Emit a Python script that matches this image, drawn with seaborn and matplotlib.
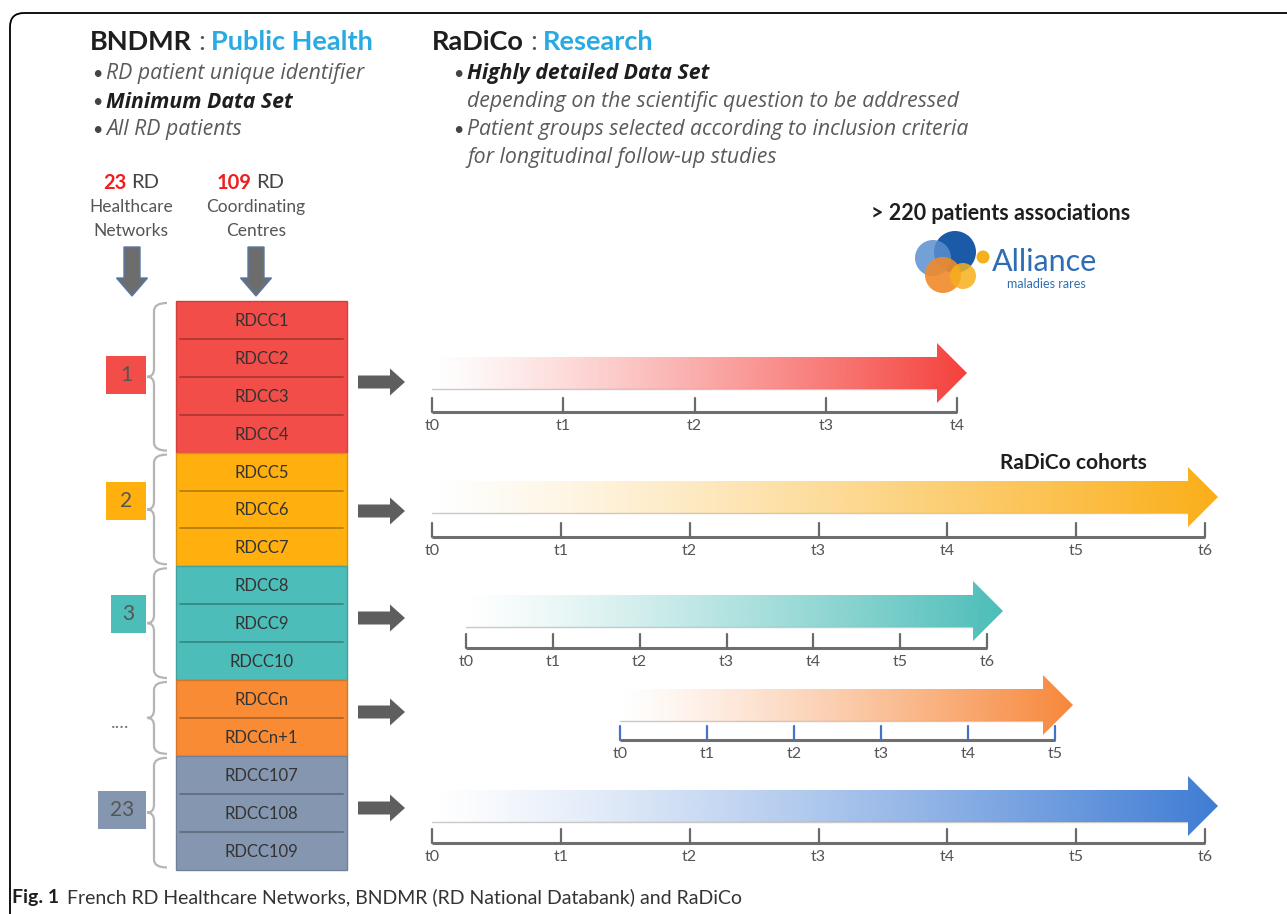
import numpy as np
import matplotlib
matplotlib.use("Agg")
import matplotlib.pyplot as plt
import matplotlib.colors as mcolors
import seaborn as sns
from matplotlib.patches import Rectangle, Polygon, FancyArrow, FancyBboxPatch, Circle, PathPatch
from matplotlib.path import Path

sns.set_theme(style="white")
plt.rcParams['font.family'] = ['Lato', 'DejaVu Sans']

# ---- data ----
network_labels = ["1", "2", "3", "....", "23"]
group_colors = ["#F24D48", "#FFB00F", "#4DBDB9", "#F98B34", "#8597B0"]
rdcc_labels = [
    ["RDCC1", "RDCC2", "RDCC3", "RDCC4"],
    ["RDCC5", "RDCC6", "RDCC7"],
    ["RDCC8", "RDCC9", "RDCC10"],
    ["RDCCn", "RDCCn+1"],
    ["RDCC107", "RDCC108", "RDCC109"],
]
timeline_ticks = [
    ["t0", "t1", "t2", "t3", "t4"],
    ["t0", "t1", "t2", "t3", "t4", "t5", "t6"],
    ["t0", "t1", "t2", "t3", "t4", "t5", "t6"],
    ["t0", "t1", "t2", "t3", "t4", "t5"],
    ["t0", "t1", "t2", "t3", "t4", "t5", "t6"],
]
arrow_colors = ["#F5403B", "#FBAE17", "#4CBDB8", "#F7873A", "#3F7CD4"]
tick_colors = ["#6a6a6a", "#6a6a6a", "#6a6a6a", "#4472C4", "#6a6a6a"]

# (text, bold, has bullet)
left_bullets = [("RD patient unique identifier", False, True),
                ("Minimum Data Set", True, True),
                ("All RD patients", False, True)]
right_bullets = [("Highly detailed Data Set", True, True),
                 ("depending on the scientific question to be addressed", False, False),
                 ("Patient groups selected according to inclusion criteria", False, True),
                 ("for longitudinal follow-up studies", False, False)]

# ---- layout (pixels) ----
W, H = 1287, 914
col_x0, col_x1 = 176, 347
row_top, row_h = 301, 37.9
box_cy = [375, 501, 614, 722, 810]
box_w = [40, 40, 35, 0, 48]
arrow_cy = [382, 511, 618, 712, 808]
tl_start = [432, 432, 466, 620, 432]
tl_end = [957, 1205, 987, 1055, 1205]
tl_tip = [967, 1218, 1003, 1073, 1218]
tl_arrow_y = [373, 497, 611, 705, 806]
tl_axis_y = [412, 537, 648, 740, 843]

fig = plt.figure(figsize=(W / 100, H / 100), dpi=100)
ax = fig.add_axes([0, 0, 1, 1])
ax.set_xlim(0, W)
ax.set_ylim(H, 0)
ax.axis("off")
renderer = fig.canvas.get_renderer()


def text_run(x, y, parts, gap=0, **kw):
    for s, props in parts:
        t = ax.text(x, y, s, va="center", ha="left", **kw, **props)
        bb = t.get_window_extent(renderer=renderer)
        x = ax.transData.inverted().transform((bb.x1, bb.y0))[0] + gap


def darker(c, f=0.72):
    r, g, b = mcolors.to_rgb(c)
    return (r * f, g * f, b * f)


def gradient_arrow(x0, x1, yc, color, body_h=32, head_h=60, head_len=30):
    xb = x1 - head_len
    pts = [(x0, yc - body_h / 2), (xb, yc - body_h / 2), (xb, yc - head_h / 2), (x1, yc),
           (xb, yc + head_h / 2), (xb, yc + body_h / 2), (x0, yc + body_h / 2)]
    poly = Polygon(pts, closed=True, facecolor="none", edgecolor="none")
    ax.add_patch(poly)
    grad = np.zeros((2, 256, 4))
    grad[..., :3] = mcolors.to_rgb(color)
    grad[..., 3] = np.linspace(0, 1, 256) ** 1.2
    im = ax.imshow(grad, extent=(x0, x1, yc + head_h / 2, yc - head_h / 2),
                   aspect="auto", interpolation="bilinear", zorder=2)
    im.set_clip_path(poly)
    ax.plot([x0, xb], [yc + body_h / 2, yc + body_h / 2], color="#c9c9c9", lw=1.0, zorder=1)


def brace(top, bottom, xr=167, xm=154, xt=147, r=8):
    mid = (top + bottom) / 2
    verts = [(xr, top), (xm, top), (xm, top + r), (xm, mid - r), (xm, mid), (xt, mid),
             (xt, mid), (xm, mid), (xm, mid + r), (xm, bottom - r), (xm, bottom), (xr, bottom)]
    codes = [Path.MOVETO, Path.CURVE3, Path.CURVE3, Path.LINETO, Path.CURVE3, Path.CURVE3,
             Path.MOVETO, Path.CURVE3, Path.CURVE3, Path.LINETO, Path.CURVE3, Path.CURVE3]
    ax.add_patch(PathPatch(Path(verts, codes), fill=False, ec="#b5b5b5", lw=1.6))


def bullet_list(x, items):
    for i, (s, bold, dot) in enumerate(items):
        y = 74 + 28 * i
        if dot:
            ax.text(x, y, "•", va="center", ha="left", fontsize=13, color="#444444")
        ax.text(x + 14, y, s, va="center", ha="left", fontsize=15.3, style="italic",
                family=["Open Sans", "DejaVu Sans"], fontweight="bold" if bold else "normal",
                color="#1e1e1e" if bold else "#5a5a5a")


# frame
ax.add_patch(FancyBboxPatch((10, 13), 1400, 1000, boxstyle="round,pad=0,rounding_size=14",
                            fill=False, ec="black", lw=1.3, clip_on=False))

# headers
text_run(90, 42, [("BNDMR", dict(color="#1e1e1e", fontweight="bold")),
                  (":", dict(color="#555555")),
                  ("Public Health", dict(color="#2AAAE2", fontweight="bold"))], gap=6, fontsize=19.5)
text_run(432, 42, [("RaDiCo", dict(color="#1e1e1e", fontweight="bold")),
                   (":", dict(color="#555555")),
                   ("Research", dict(color="#2AAAE2", fontweight="bold"))], gap=6, fontsize=19.5)
bullet_list(92, left_bullets)
bullet_list(453, right_bullets)

# column headers
ax.text(127, 183, "23", color="#F01E1E", fontweight="bold", fontsize=14.5, ha="right", va="center")
ax.text(131, 183, "RD", color="#444444", fontsize=14.5, ha="left", va="center")
ax.text(131, 207, "Healthcare", color="#555555", fontsize=12.5, ha="center", va="center")
ax.text(131, 231, "Networks", color="#555555", fontsize=12.5, ha="center", va="center")
ax.text(252, 183, "109", color="#F01E1E", fontweight="bold", fontsize=14.5, ha="right", va="center")
ax.text(256, 183, "RD", color="#444444", fontsize=14.5, ha="left", va="center")
ax.text(256, 207, "Coordinating", color="#555555", fontsize=12.5, ha="center", va="center")
ax.text(256, 231, "Centres", color="#555555", fontsize=12.5, ha="center", va="center")
for xc in [132, 256]:
    ax.add_patch(FancyArrow(xc, 247, 0, 49, width=16, head_width=31, head_length=18,
                            length_includes_head=True, fc="#6d6d6d", ec="#5878a8", lw=1.0))

# RDCC column, braces, network boxes, arrows
row = 0
for g, labels in enumerate(rdcc_labels):
    color = group_colors[g]
    y0 = row_top + row * row_h
    y1 = y0 + len(labels) * row_h
    ax.add_patch(Rectangle((col_x0, y0), col_x1 - col_x0, y1 - y0, fc=color,
                           ec=darker(color, 0.85), lw=1.0, zorder=2))
    for k, lab in enumerate(labels):
        yc = y0 + (k + 0.5) * row_h
        if k > 0:
            ax.plot([col_x0 + 4, col_x1 - 4], [y0 + k * row_h] * 2, color=darker(color), lw=1.3, zorder=3)
        ax.text((col_x0 + col_x1) / 2, yc + 1, lab, ha="center", va="center", fontsize=12,
                color="#333333", zorder=4)
    brace(y0 + 2, y1 - 2)
    if box_w[g] > 0:
        ax.add_patch(Rectangle((146 - box_w[g], box_cy[g] - 19), box_w[g], 38, fc=color, ec="none"))
        ax.text(146 - box_w[g] / 2, box_cy[g], network_labels[g], ha="center", va="center",
                fontsize=15, color="#555555")
    else:
        ax.text(120, box_cy[g], network_labels[g], ha="center", va="center", fontsize=14, color="#777777")
    ax.add_patch(FancyArrow(358, arrow_cy[g], 47, 0, width=13, head_width=27, head_length=15,
                            length_includes_head=True, fc="#5e5e5e", ec="none"))
    row += len(labels)

# timelines
for g, ticks in enumerate(timeline_ticks):
    gradient_arrow(tl_start[g], tl_tip[g], tl_arrow_y[g], arrow_colors[g])
    ya = tl_axis_y[g]
    xs = np.linspace(tl_start[g], tl_end[g], len(ticks))
    ax.plot([tl_start[g], tl_end[g]], [ya, ya], color="#6f6f6f", lw=2.2, solid_capstyle="butt")
    for x, lab in zip(xs, ticks):
        ax.plot([x, x], [ya - 14, ya], color=tick_colors[g], lw=1.6)
        ax.text(x, ya + 14, lab, ha="center", va="center", fontsize=11.5, color="#555555")

ax.text(1000, 463, "RaDiCo cohorts", ha="left", va="center", fontsize=15, fontweight="bold",
        color="#1e1e1e")

# patients associations + logo
ax.text(1001, 214, "> 220 patients associations", ha="center", va="center", fontsize=15.5,
        fontweight="bold", color="#1e1e1e")
ax.add_patch(Circle((955, 252), 21, fc="#1b5aa6", ec="none"))
ax.add_patch(Circle((933, 258), 18, fc="#5a8fcf", ec="none", alpha=0.85))
ax.add_patch(Circle((943, 275), 18, fc="#F08A2A", ec="none", alpha=0.9))
ax.add_patch(Circle((963, 276), 13, fc="#F6B01C", ec="none", alpha=0.85))
ax.add_patch(Circle((983, 257), 6.5, fc="#F6B01C", ec="none"))
ax.text(992, 262, "Alliance", ha="left", va="center", fontsize=22, color="#2E6DB4")
ax.text(1007, 284, "maladies rares", ha="left", va="center", fontsize=9, color="#2E6DB4")

# caption
cap_font = ["Liberation Sans Narrow", "Lato", "DejaVu Sans"]
text_run(12, 897, [("Fig. 1", dict(fontweight="bold", color="#1e1e1e")),
                   ("French RD Healthcare Networks, BNDMR (RD National Databank) and RaDiCo",
                    dict(color="#333333"))], gap=8, fontsize=14, family=cap_font)

ax.set_xlim(0, W)
ax.set_ylim(H, 0)
fig.savefig("out.png", dpi=100, facecolor="white")
